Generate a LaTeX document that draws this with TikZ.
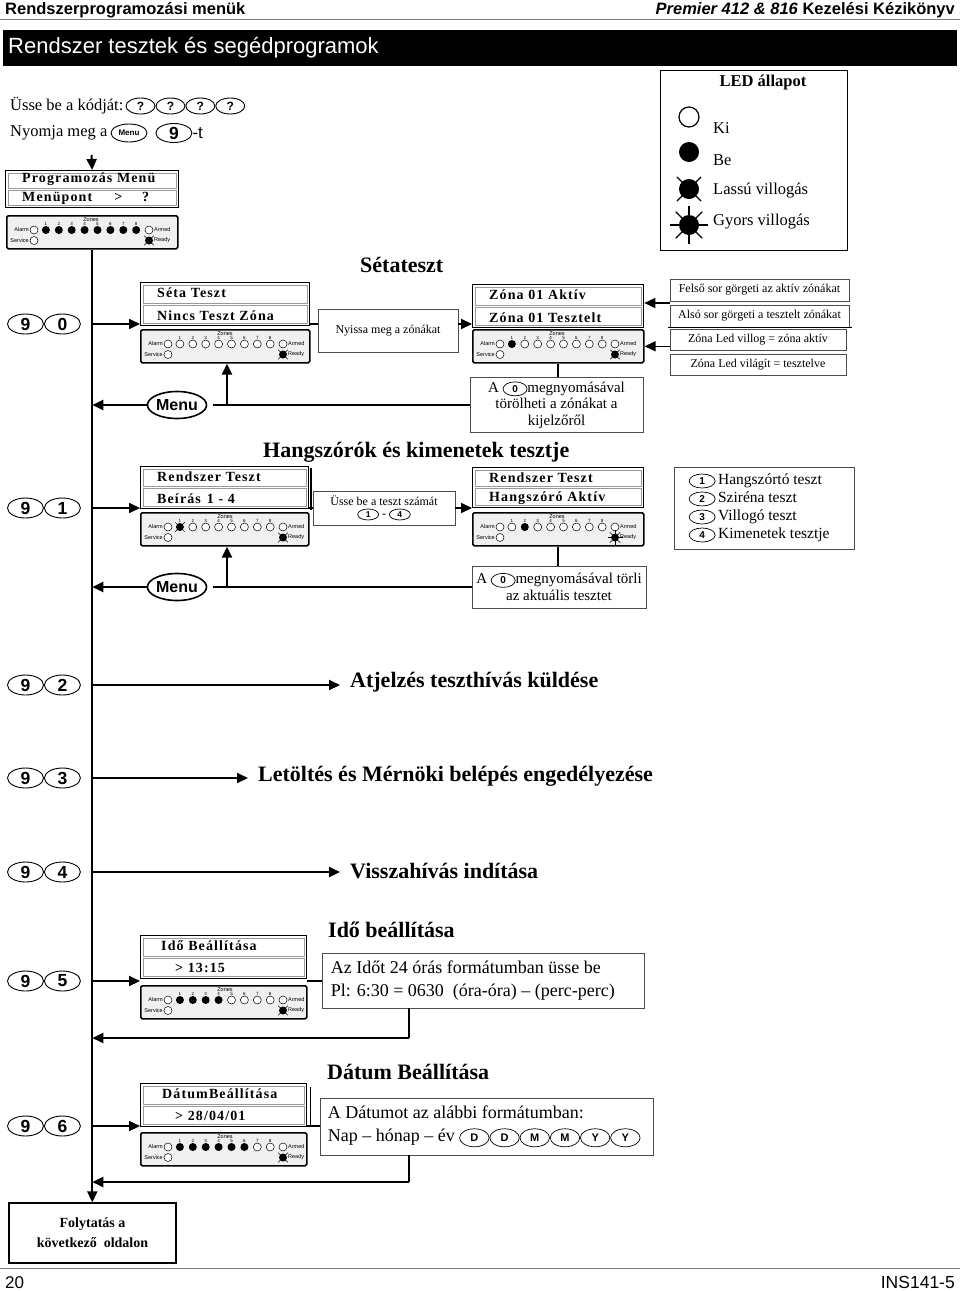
\documentclass[tikz,border=0pt]{standalone}
\usepackage{fontspec}
\setmainfont{Liberation Serif}
\setsansfont{Liberation Sans}
\newfontfamily\lcdfont[LetterSpace=8]{Liberation Serif}
\usetikzlibrary{arrows.meta,shapes.geometric,positioning,calc}

\newcommand{\meret}[1]{\fontsize{#1}{#1}\selectfont}

\tikzset{
  nyil/.style={line width=2pt,-{Triangle[length=11pt,width=10pt]}},
  vonal/.style={line width=2pt},
  gomb/.style={ellipse,draw,line width=0.9pt,fill=white,inner sep=0pt,minimum width=36pt,minimum height=20pt,font=\sffamily\bfseries\meret{17.5}},
  kerdes/.style={gomb,minimum width=29pt,minimum height=16pt,font=\sffamily\bfseries\meret{12}},
  menukis/.style={gomb,minimum width=36pt,minimum height=18pt,font=\sffamily\bfseries\meret{8}},
  menugomb/.style={ellipse,draw,line width=1.6pt,fill=white,inner sep=0pt,minimum width=58pt,minimum height=27pt,font=\sffamily\bfseries\meret{16}},
  kisgomb/.style={ellipse,draw,line width=0.7pt,fill=white,inner sep=0pt,align=center,minimum width=24pt,minimum height=14pt,font=\sffamily\bfseries\meret{10}},
  lcdbox/.style={draw,line width=1.3pt,fill=white,anchor=north west,minimum width=169pt,minimum height=43pt,inner sep=0pt},
  lcdsor/.style={draw=gray!80,line width=0.8pt},
  lcdtext/.style={anchor=west,inner sep=0pt,font=\lcdfont\bfseries\meret{14}},
  panelbox/.style={draw,line width=1.6pt,fill=gray!12,rounded corners=1.5pt,anchor=north west,minimum width=169pt,minimum height=33pt,inner sep=0pt},
  apro/.style={inner sep=0pt,font=\sffamily\meret{5.5}},
  doboz/.style={draw=gray!60!black,line width=0.8pt,fill=white,align=center,inner sep=2pt},
  megj/.style={doboz,font=\meret{12}},
  cim/.style={anchor=west,inner sep=0pt,font=\bfseries\meret{22}},
  szoveg/.style={anchor=west,inner sep=0pt,font=\meret{16.5}},
  ledki/.pic={\draw[fill=white] (0,0) circle (4pt);},
  ledbe/.pic={\fill (0,0) circle (4pt);},
  ledlassu/.pic={\fill (0,0) circle (4pt);
    \foreach \a in {45,135,225,315} \draw (\a:3pt) -- (\a:6.8pt);},
  ledgyors/.pic={\fill (0,0) circle (4pt);
    \foreach \a in {0,45,...,315} \draw (\a:3pt) -- (\a:7.5pt);}
}

% gomb a szovegben
\newcommand{\kgomb}[2][]{\tikz[baseline=(kg.base)]\node[kisgomb,#1] (kg) {#2};}

% LCD kijelzo ket sorral
\newcommand{\kijelzo}[6][]{%
  \node[lcdbox,#1] (#2) at (#3,#4) {};
  \draw[lcdsor] ([shift={(3,3)}]#2.north west) rectangle ([shift={(-3,-1)}]#2.east);
  \draw[lcdsor] ([shift={(3,1)}]#2.west) rectangle ([shift={(-3,-3)}]#2.south east);
  \node[lcdtext] (#2a) at ($(#2.north west)!0.5!(#2.west)+(17,0)$) {#5};
  \node[lcdtext] (#2b) at ($(#2.west)!0.5!(#2.south west)+(17,0)$) {#6};
}

% kezelo panel LED-ekkel
\newcommand{\kezelo}[6][]{%
  \node[panelbox,#1] (#2) at (#3,#4) {};
  \node[apro,anchor=east] (#2al) at ({#3+23},{#4+15}) {Alarm};
  \node[apro,anchor=east] (#2se) at ({#3+23},{#4+25.5}) {Service};
  \node[apro,anchor=west] (#2ar) at ({#3+148},{#4+15}) {Armed};
  \node[apro,anchor=west] (#2re) at ({#3+148},{#4+25.5}) {Ready};
  \node[apro] (#2zo) at ({#3+85},{#4+4.5}) {Zones};
  \pic[line width=0.5pt] at ({#3+28},{#4+15}) {ledki};
  \pic[line width=0.5pt] at ({#3+143},{#4+15}) {ledki};
  \pic[line width=0.5pt] at ({#3+28},{#4+25.5}) {ledki};
  \pic[line width=0.5pt] at ({#3+143},{#4+25.5}) {led#6};
  \foreach \s [count=\i] in {#5}{
    \node[apro,font=\sffamily\meret{4.5}] (#2n\i) at ({#3+27+12.9*\i},{#4+8.5}) {\i};
    \pic[line width=0.5pt] at ({#3+27+12.9*\i},{#4+15}) {led\s};
  }
}

\begin{document}
\begin{tikzpicture}[x=1pt,y=-1pt]
\fill[white] (0,0) rectangle (960,1291);
\useasboundingbox (0,0) rectangle (960,1291);

% fejlec
\node[anchor=base west,inner sep=0pt,font=\sffamily\bfseries\meret{16.5}] (fej1) at (5,14) {Rendszerprogramozási menük};
\node[anchor=base east,inner sep=0pt,font=\sffamily\bfseries\meret{16.5}] (fej2) at (955,14) {\textit{Premier 412 \& 816} Kezelési Kézikönyv};
\draw[gray,line width=0.8pt] (0,19) -- (960,19);
\fill (3,30) rectangle (957,66);
\node[anchor=west,inner sep=0pt,text=white,font=\sffamily\meret{22}] (focim) at (8,48) {Rendszer tesztek és segédprogramok};

% kod beirasa
\node[szoveg] (usse) at (10,106) {Üsse be a kódját:};
\node[kerdes,right=2pt of usse] (q1) {?};
\node[kerdes,right=0pt of q1] (q2) {?};
\node[kerdes,right=0pt of q2] (q3) {?};
\node[kerdes,right=0pt of q3] (q4) {?};
\node[szoveg] (nyomja) at (10,133) {Nyomja meg a};
\node[menukis,right=3pt of nyomja] (mkis) {Menu};
\node[gomb,minimum height=19pt,right=8pt of mkis] (k9) {9};
\node[anchor=west,inner sep=0pt,font=\sffamily\meret{17}] (kt) at (k9.east) {-t};

% LED allapot
\node[draw,line width=1.2pt,anchor=north west,minimum width=187pt,minimum height=180pt,inner sep=0pt] (jelm) at (660,70) {};
\node[inner sep=0pt,font=\bfseries\meret{16.5}] (jcim) at (763,83) {LED állapot};
\pic[scale=2.5,line width=1.2pt] at (689,117) {ledki};
\pic[scale=2.5,line width=1.2pt] at (689,152) {ledbe};
\pic[scale=2.5,line width=1.2pt] at (689,189) {ledlassu};
\pic[scale=2.5,line width=1.2pt] at (689,225) {ledgyors};
\node[szoveg] (jki) at (713,128) {Ki};
\node[szoveg] (jbe) at (713,160) {Be};
\node[szoveg] (jla) at (713,191) {Lassú villogás};
\node[szoveg] (jgy) at (713,222) {Gyors villogás};

% programozas menu
\coordinate (be) at (91.5,155);
\kijelzo[minimum width=173pt,minimum height=37pt]{lprog}{5}{170}{Programozás Menü}{Menüpont\hspace{22pt}>\hspace{20pt}?}
\kezelo[minimum width=171pt]{pprog}{6}{215}{be,be,be,be,be,be,be,be}{lassu}
\draw[nyil] (be) -- (lprog.north);

% sorok gombjai
\foreach \n/\y in {0/324,1/508,2/685,3/778,4/872,5/981,6/1126}{
  \node[gomb] (ka\n) at (25.5,\y) {9};
  \node[gomb,right=0pt of ka\n] (kb\n) {\n};
}

% fo vonal
\node[doboz,draw=black,line width=1.2pt,minimum width=167pt,minimum height=60pt,font=\bfseries\fontsize{14}{20}\selectfont] (folyt) at (92.5,1233) {Folytatás a\\következő\ \ oldalon};
\draw[nyil] (pprog.south) -- (pprog.south |- folyt.north);

% 9 0 - setateszt
\node[cim] (setacim) at (360,265) {Sétateszt};
\kijelzo{l90}{140}{282}{Séta Teszt}{Nincs Teszt Zóna}
\kezelo{p90}{140}{329}{ki,ki,ki,ki,ki,ki,ki,ki}{lassu}
\node[megj,minimum width=140pt,minimum height=43pt] (nyissa) at (388,330.5) {Nyissa meg a zónákat};
\kijelzo[minimum width=171pt]{l90b}{472}{284}{Zóna 01 Aktív}{Zóna 01 Tesztelt}
\kezelo[minimum width=171pt]{p90b}{472}{329}{be,ki,ki,ki,ki,ki,ki,ki}{lassu}
\draw[nyil] (kb0 -| pprog.south) -- (kb0 -| l90.west);
\draw[vonal] (kb0 -| l90.east) -- (kb0 -| nyissa.west);
\draw[nyil] (kb0 -| nyissa.east) -- (kb0 -| l90b.west);

\node[megj,minimum width=179pt,minimum height=22pt] (felso) at (759.5,290) {Felső sor görgeti az aktív zónákat};
\node[megj,minimum width=179pt,minimum height=22pt] (also) at (759.5,316) {Alsó sor görgeti a tesztelt zónákat};
\draw[line width=1.6pt] ([xshift=-2pt]also.south west) -- ([xshift=3pt]also.south east);
\node[megj,minimum width=176pt,minimum height=21pt] (villog) at (758,339.5) {Zóna Led villog = zóna aktív};
\node[megj,minimum width=176pt,minimum height=21pt] (vilagit) at (758,364.5) {Zóna Led világít = tesztelve};
\coordinate (fa) at ($(felso.south west)!0.5!(also.north west)$);
\draw[nyil,line width=1.5pt] (fa) -- (fa -| l90b.east);
\draw[nyil,line width=1.5pt] (villog.west |- p90b.east) -- (p90b.east);

\node[doboz,minimum width=173pt,minimum height=55pt,font=\fontsize{15}{16.5}\selectfont] (torol) at (556.5,405) {A \kgomb{0}megnyomásával\\törölheti a zónákat a\\kijelzőről};
\draw[vonal] (p90b.south) -- (p90b.south |- torol.north);
\node[menugomb] (menu1) at (177,405) {Menu};
\draw[vonal,shorten <=6pt] (menu1.east) -- (menu1.east -| torol.west);
\draw[nyil] (menu1.west) -- (menu1.west -| pprog.south);
\coordinate (fel1) at (227,405);
\draw[nyil] (fel1) -- (fel1 |- p90.south);

% 9 1 - hangszorok es kimenetek
\node[cim] (hangcim) at (263,452) {Hangszórók és kimenetek tesztje};
\kijelzo[minimum width=168pt,minimum height=42pt]{l91}{140}{466}{Rendszer Teszt}{Beírás\hspace{6pt}1 - 4}
\draw[line width=2.5pt] ([shift={(1.5,2)}]l91.north east) -- ([shift={(1.5,1)}]l91.south east);
\kezelo[minimum width=168pt]{p91}{140}{512}{lassu,ki,ki,ki,ki,ki,ki,ki}{lassu}
\node[megj,minimum width=142pt,minimum height=34pt] (szam) at (384,508) {Üsse be a teszt számát\\\kgomb[minimum width=21pt,minimum height=11pt,font=\sffamily\bfseries\meret{8.5}]{1} - \kgomb[minimum width=21pt,minimum height=11pt,font=\sffamily\bfseries\meret{8.5}]{4}};
\kijelzo[minimum width=171pt,minimum height=40pt]{l91b}{472}{467}{Rendszer Teszt}{Hangszóró Aktív}
\kezelo[minimum width=171pt]{p91b}{472}{512}{ki,be,ki,ki,ki,ki,ki,ki}{gyors}
\draw[nyil] (kb1 -| pprog.south) -- (kb1 -| l91.west);
\draw[vonal] (kb1 -| l91.east) -- (kb1 -| szam.west);
\draw[nyil] (kb1 -| szam.east) -- (kb1 -| l91b.west);

\node[megj,minimum width=180pt,minimum height=82pt] (lista) at (764,508) {};
\node[anchor=west,inner sep=0pt,align=left,font=\fontsize{15.5}{18}\selectfont] (listat) at ([xshift=15pt]lista.west) {\kgomb[minimum width=26pt]{1}\,Hangszórtó teszt\\\kgomb[minimum width=26pt]{2}\,Sziréna teszt\\\kgomb[minimum width=26pt]{3}\,Villogó teszt\\\kgomb[minimum width=26pt]{4}\,Kimenetek tesztje};

\node[doboz,minimum width=174pt,minimum height=42pt,font=\fontsize{15}{17}\selectfont] (torli) at (559,587) {A \kgomb{0}megnyomásával törli\\az aktuális tesztet};
\draw[vonal] (p91b.south) -- (p91b.south |- torli.north);
\node[menugomb] (menu2) at (177,587) {Menu};
\draw[vonal,shorten <=6pt] (menu2.east) -- (menu2.east -| torli.west);
\draw[nyil] (menu2.west) -- (menu2.west -| pprog.south);
\coordinate (fel2) at (227,587);
\draw[nyil] (fel2) -- (fel2 |- p91.south);

% 9 2 - 9 4
\foreach \n/\y/\x/\t in {2/682/350/{Atjelzés teszthívás küldése},3/776/258/{Letöltés és Mérnöki belépés engedélyezése},4/871/350/{Visszahívás indítása}}{
  \node[cim] (t9\n) at (\x,\y) {\t};
  \draw[nyil,shorten >=10pt] (kb\n -| pprog.south) -- (kb\n -| t9\n.west);
}

% 9 5 - ido
\node[cim] (idocim) at (328,930) {Idő beállítása};
\kijelzo[minimum width=166pt]{l95}{140}{935}{\hspace{4pt}Idő Beállítása}{\hspace{18pt}> 13:15}
\kezelo[minimum width=166pt]{p95}{140}{985}{be,be,be,be,ki,ki,ki,ki}{lassu}
\node[megj,minimum width=322pt,minimum height=55pt] (ido) at (483,980.5) {};
\node[anchor=west,inner sep=0pt,align=left,font=\fontsize{18}{23}\selectfont] (idot) at ([xshift=9pt]ido.west) {Az Időt 24 órás formátumban üsse be\\Pl: 6:30 = 0630\ \ (óra-óra) – (perc-perc)};
\draw[nyil] (kb5 -| pprog.south) -- (kb5 -| l95.west);
\draw[vonal] (kb5 -| l95.east) -- (kb5 -| ido.west);
\coordinate (v95) at (409,1038);
\draw[vonal] (ido.south -| v95) -- (v95);
\draw[nyil] (v95) -- (v95 -| pprog.south);

% 9 6 - datum
\node[cim] (datumcim) at (327,1072) {Dátum Beállítása};
\kijelzo[minimum width=166pt]{l96}{140}{1083}{\hspace{5pt}DátumBeállítása}{\hspace{18pt}> 28/04/01}
\draw[line width=1.2pt] ([shift={(3.5,4)}]l96.north east) -- ([shift={(3.5,0)}]l96.south east);
\kezelo[minimum width=166pt]{p96}{140}{1132}{be,be,be,be,be,be,ki,ki}{lassu}
\node[megj,minimum width=333pt,minimum height=57pt] (datum) at (486.5,1126.5) {};
\node[anchor=west,inner sep=0pt,align=left,font=\fontsize{18}{23}\selectfont] (datumt) at ([xshift=8pt]datum.west) {A Dátumot az alábbi formátumban:\\Nap – hónap – év \kgomb[minimum width=29.5pt,minimum height=18pt,font=\sffamily\bfseries\meret{11}]{D}\kgomb[minimum width=29.5pt,minimum height=18pt,font=\sffamily\bfseries\meret{11}]{D}\kgomb[minimum width=29.5pt,minimum height=18pt,font=\sffamily\bfseries\meret{11}]{M}\kgomb[minimum width=29.5pt,minimum height=18pt,font=\sffamily\bfseries\meret{11}]{M}\kgomb[minimum width=29.5pt,minimum height=18pt,font=\sffamily\bfseries\meret{11}]{Y}\kgomb[minimum width=29.5pt,minimum height=18pt,font=\sffamily\bfseries\meret{11}]{Y}};
\draw[nyil] (kb6 -| pprog.south) -- (kb6 -| l96.west);
\draw[vonal] (kb6 -| l96.east) -- (kb6 -| datum.west);
\coordinate (v96) at (409,1182);
\draw[vonal] (datum.south -| v96) -- (v96);
\draw[nyil] (v96) -- (v96 -| pprog.south);

% labjegyzet
\draw[gray,line width=0.8pt] (0,1268) -- (960,1268);
\node[anchor=base west,inner sep=0pt,font=\sffamily\meret{17}] (lapszam) at (5,1288) {20};
\node[anchor=base east,inner sep=0pt,font=\sffamily\meret{17.5}] (kodszam) at (955,1288) {INS141-5};
\end{tikzpicture}
\end{document}
